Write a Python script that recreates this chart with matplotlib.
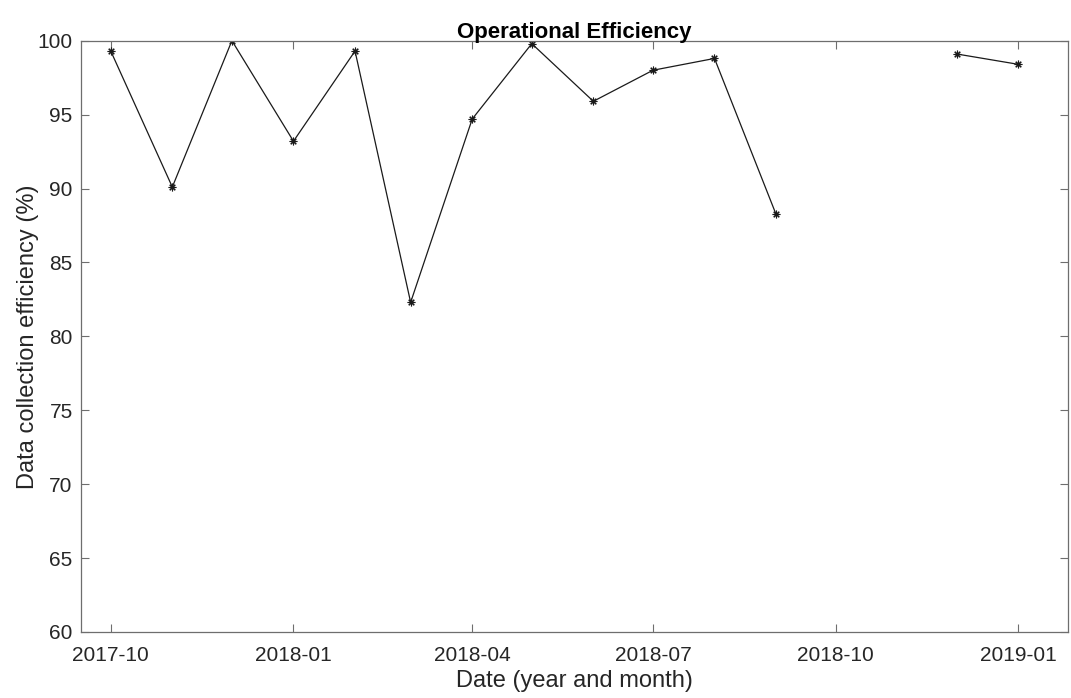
import numpy as np
import pandas as pd
import matplotlib
matplotlib.use('Agg')
import matplotlib.pyplot as plt
import matplotlib.dates as mdates

plt.rcParams['font.family'] = ['Liberation Sans', 'DejaVu Sans']

# monthly data collection efficiency (%), NaN where no data
months = ['2017-10', '2017-11', '2017-12', '2018-01', '2018-02', '2018-03',
          '2018-04', '2018-05', '2018-06', '2018-07', '2018-08', '2018-09',
          '2018-10', '2018-11', '2018-12', '2019-01']
efficiency = [99.3, 90.1, 100.0, 93.2, 99.3, 82.3,
              94.7, 99.8, 95.9, 98.0, 98.8, 88.25,
              np.nan, np.nan, 99.1, 98.4]
tick_months = ['2017-10', '2018-01', '2018-04', '2018-07', '2018-10', '2019-01']

dates = pd.to_datetime(months)
ticks = pd.to_datetime(tick_months)

text_col = '#262626'
axis_col = '#6e6e6e'

fig = plt.figure(figsize=(10.71, 6.98), dpi=100)
ax = fig.add_axes([0.0756, 0.0946, 0.9216, 0.8471])

# MATLAB-style asterisk marker (8 arms)
ax.plot(dates, efficiency, color='#1a1a1a', linewidth=0.9,
        marker=(8, 2, 0), markersize=5.5, markeredgewidth=0.8)

ax.set_xlim(pd.Timestamp('2017-09-16'), pd.Timestamp('2019-01-26'))
ax.set_ylim(60, 100)
ax.set_yticks(np.arange(60, 101, 5))
ax.set_xticks(ticks)
ax.xaxis.set_major_formatter(mdates.DateFormatter('%Y-%m'))

ax.tick_params(direction='in', top=True, right=True, length=6, width=0.8,
               color=axis_col, labelcolor=text_col, labelsize=15)
ax.tick_params(axis='x', pad=10)
ax.tick_params(axis='y', pad=6)
for s in ax.spines.values():
    s.set_color(axis_col)
    s.set_linewidth(0.9)

ax.set_title('Operational Efficiency', fontsize=16, fontweight='bold',
             color='black', pad=2)
ax.set_xlabel('Date (year and month)', fontsize=17, color=text_col, labelpad=4)
ax.set_ylabel('Data collection efficiency (%)', fontsize=17, color=text_col, labelpad=-1)

fig.savefig('out.png', dpi=100)
